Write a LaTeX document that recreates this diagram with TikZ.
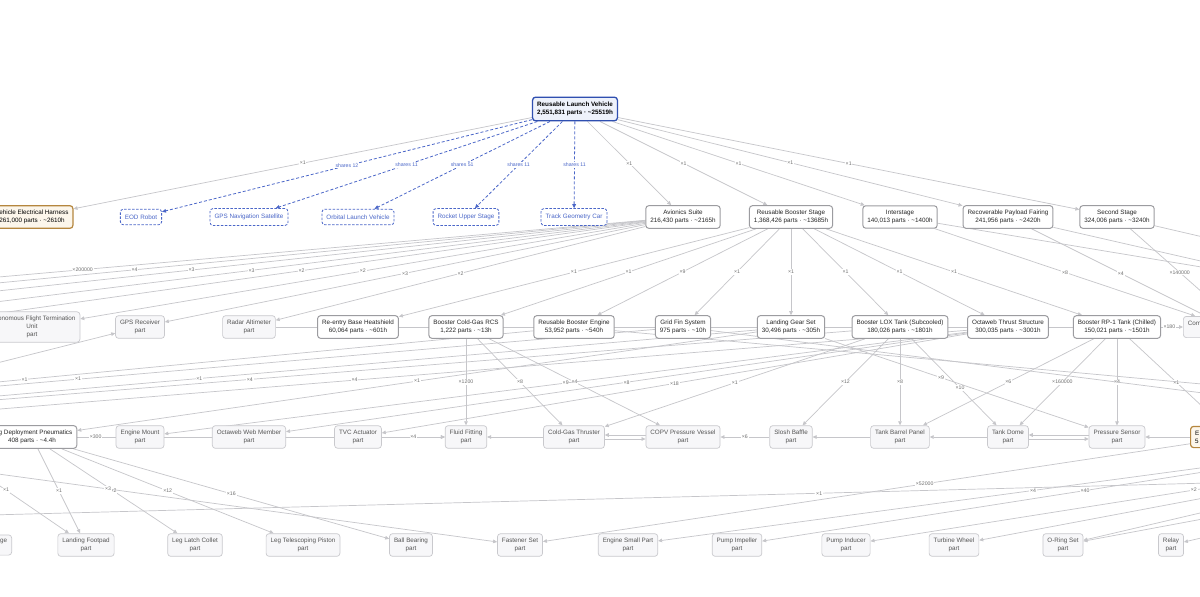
\documentclass[tikz,border=0pt]{standalone}
\usepackage{fontspec}
\setmainfont{Liberation Sans}
\usetikzlibrary{arrows.meta, backgrounds}

\definecolor{edgegray}{HTML}{C6C6CA}
\definecolor{asmgray}{HTML}{9C9CA0}
\definecolor{partgray}{HTML}{C9C9CD}
\definecolor{partfill}{HTML}{F7F7F9}
\definecolor{parttext}{HTML}{555555}
\definecolor{rootblue}{HTML}{2F4FB0}
\definecolor{rootfill}{HTML}{EEF2FB}
\definecolor{shareblue}{HTML}{4A66C8}
\definecolor{harnessbrown}{HTML}{B5863E}
\definecolor{harnessfill}{HTML}{FCF6EB}
\definecolor{lblgray}{HTML}{707070}

\newcommand{\aprx}{\textasciitilde}

\tikzset{
  asm/.style={draw=asmgray, line width=1pt, fill=white, text=black!85},
  part/.style={draw=partgray, line width=0.7pt, fill=partfill, text=parttext},
  root/.style={draw=rootblue, line width=1.3pt, fill=rootfill, inner ysep=5pt,
    font=\fontsize{6.3}{7.8}\selectfont\bfseries},
  shared/.style={draw=shareblue, dashed, dash pattern=on 2.5pt off 1.5pt,
    line width=0.8pt, fill=white, text=shareblue, inner ysep=5.5pt},
  harness/.style={draw=harnessbrown, line width=1.2pt, fill=harnessfill},
  sharelink/.style={draw=shareblue, dashed, dash pattern=on 3pt off 2pt, line width=0.8pt},
  sharetag/.style={text=shareblue},
}

\begin{document}
\begin{tikzpicture}[x=1pt, y=-1pt]
\useasboundingbox (0,0) rectangle (1200,597);

\begin{scope}[
    every node/.style={rounded corners=3pt, align=center, inner xsep=4.5pt,
      inner ysep=4.5pt, font=\fontsize{6.3}{7.8}\selectfont}]
    \node (rlv) at (575, 109) [root] {Reusable Launch Vehicle\\2,551,831 parts · \aprx25519h};

    % % 1st row
    \node (veh) at (32, 217) [harness] {Vehicle Electrical Harness\\261,000 parts · \aprx2610h};
    \node (eod) at (141, 217) [shared] {EOD Robot};
    \node (gns) at (249, 217) [shared] {GPS Navigation Satellite};
    \node (olv) at (358, 217) [shared] {Orbital Launch Vehicle};
    \node (rus) at (466, 217) [shared] {Rocket Upper Stage};
    \node (tgc) at (574, 217) [shared] {Track Geometry Car};
    \node (avi) at (683, 217) [asm] {Avionics Suite\\216,430 parts · \aprx2165h};
    \node (rbs) at (791, 217) [asm] {Reusable Booster Stage\\1,368,426 parts · \aprx13685h};
    \node (ist) at (900, 217) [asm] {Interstage\\140,013 parts · \aprx1400h};
    \node (rpf) at (1008, 217) [asm] {Recoverable Payload Fairing\\241,956 parts · \aprx2420h};
    \node (sst) at (1117, 217) [asm] {Second Stage\\324,006 parts · \aprx3240h};

    % % 2nd row
    \node (aftu) at (32, 327) [part] {Autonomous Flight Termination\\Unit\\part};
    \node (gpsr) at (140, 327) [part] {GPS Receiver\\part};
    \node (ralt) at (249, 327) [part] {Radar Altimeter\\part};
    \node (rbh) at (358, 327) [asm] {Re-entry Base Heatshield\\60,064 parts · \aprx601h};
    \node (rcs) at (466, 327) [asm] {Booster Cold-Gas RCS\\1,222 parts · \aprx13h};
    \node (rbe) at (574, 327) [asm] {Reusable Booster Engine\\53,952 parts · \aprx540h};
    \node (gfs) at (683, 327) [asm] {Grid Fin System\\975 parts · \aprx10h};
    \node (lgs) at (791, 327) [asm] {Landing Gear Set\\30,496 parts · \aprx305h};
    \node (lox) at (900, 327) [asm] {Booster LOX Tank (Subcooled)\\180,026 parts · \aprx1801h};
    \node (otw) at (1008, 327) [asm] {Octaweb Thrust Structure\\300,035 parts · \aprx3001h};
    \node (rp1) at (1117, 327) [asm] {Booster RP-1 Tank (Chilled)\\150,021 parts · \aprx1501h};
    \node (com) at (1183, 327) [part, anchor=west, text width=80pt, align=left] {Com\\\mbox{}};

    % % 3rd row
    \node (ldp) at (32, 437) [asm] {Leg Deployment Pneumatics\\408 parts · \aprx4.4h};
    \node (emt) at (140, 437) [part] {Engine Mount\\part};
    \node (owm) at (249, 437) [part] {Octaweb Web Member\\part};
    \node (tvc) at (358, 437) [part] {TVC Actuator\\part};
    \node (ffi) at (466, 437) [part] {Fluid Fitting\\part};
    \node (cgt) at (574, 437) [part] {Cold-Gas Thruster\\part};
    \node (copv) at (683, 437) [part] {COPV Pressure Vessel\\part};
    \node (sba) at (791, 437) [part] {Slosh Baffle\\part};
    \node (tbp) at (900, 437) [part] {Tank Barrel Panel\\part};
    \node (tdo) at (1008, 437) [part] {Tank Dome\\part};
    \node (pse) at (1117, 437) [part] {Pressure Sensor\\part};
    \node (eh) at (1190, 437) [harness, anchor=west, text width=80pt, align=left] {E\\5};

    % % 4th row
    \node (ge) at (12, 545) [part, anchor=east, text width=50pt, align=right] {ge\\\mbox{}};
    \node (lfp) at (86, 545) [part] {Landing Footpad\\part};
    \node (llc) at (195, 545) [part] {Leg Latch Collet\\part};
    \node (ltp) at (303, 545) [part] {Leg Telescoping Piston\\part};
    \node (bbe) at (411, 545) [part] {Ball Bearing\\part};
    \node (fst) at (520, 545) [part] {Fastener Set\\part};
    \node (esp) at (628, 545) [part] {Engine Small Part\\part};
    \node (pim) at (737, 545) [part] {Pump Impeller\\part};
    \node (pin) at (846, 545) [part] {Pump Inducer\\part};
    \node (twh) at (954, 545) [part] {Turbine Wheel\\part};
    \node (ors) at (1063, 545) [part] {O-Ring Set\\part};
    \node (rly) at (1171, 545) [part] {Relay\\part};
\end{scope}

% ends that lie outside the picture
\coordinate (offa) at (-42, 319);
\coordinate (offb) at (-142, 319);
\coordinate (offc) at (-262, 319);
\coordinate (offd) at (-376, 319);
\coordinate (offe) at (-480, 319);
\coordinate (offf) at (1210, 318);
\coordinate (offg) at (1229, 316);
\coordinate (offh) at (1400, 300);
\coordinate (offi) at (1450, 318);
\coordinate (offj) at (1500, 306);
\coordinate (offk) at (-281, 436);
\coordinate (offl) at (-57, 447);
\coordinate (offm) at (1408, 440);
\coordinate (offn) at (1517, 439);
\coordinate (offo) at (1600, 445);
\coordinate (offp) at (1400, 478);
\coordinate (offq) at (-200, 520);
\coordinate (offr) at (-150, 400);
\coordinate (offs) at (1400, 402);
\coordinate (offt) at (1400, 418);
\coordinate (offu) at (-258, 430);
\coordinate (offv) at (-352, 428);
\coordinate (offw) at (-358, 427);
\coordinate (offx) at (-499, 429);
\coordinate (offy) at (-484, 428);

\begin{scope}[on background layer]
    \fill[white] (0,0) rectangle (1200,597);
\end{scope}

\begin{scope}[on background layer,
              >={Triangle[length=4pt, width=3.6pt]},
              every node/.style={fill=white, inner sep=0.8pt, text=lblgray,
                font=\fontsize{5.2}{6}\selectfont},
              every edge/.style={draw=edgegray, line width=0.7pt}]
    \path [->] (rlv) edge node {×1} (veh);
    \path [->] (rlv) edge[sharelink] node[sharetag] {shares 12} (eod);
    \path [->] (rlv) edge[sharelink] node[sharetag] {shares 11} (gns);
    \path [->] (rlv) edge[sharelink] node[sharetag] {shares 51} (olv);
    \path [->] (rlv) edge[sharelink] node[sharetag] {shares 11} (rus);
    \path [->] (rlv) edge[sharelink] node[sharetag] {shares 11} (tgc);
    \path [->] (rlv) edge node {×1} (avi);
    \path [->] (rlv) edge node {×1} (rbs);
    \path [->] (rlv) edge node {×1} (ist);
    \path [->] (rlv) edge node {×1} (rpf);
    \path [->] (rlv) edge node {×1} (sst);

    % % avionics
    \path [->] (avi) edge node {×200000} (offe);
    \path [->] (avi) edge node {×4} (offd);
    \path [->] (avi) edge node {×3} (offc);
    \path [->] (avi) edge node {×3} (offb);
    \path [->] (avi) edge node {×2} (offa);
    \path [->] (avi) edge node {×2} (aftu);
    \path [->] (avi) edge node {×3} (gpsr);
    \path [->] (avi) edge node {×2} (ralt);

    % % booster stage
    \path [->] (rbs) edge node {×1} (rbh);
    \path [->] (rbs) edge node {×1} (rcs);
    \path [->] (rbs) edge node {×9} (rbe);
    \path [->] (rbs) edge node {×1} (gfs);
    \path [->] (rbs) edge node {×1} (lgs);
    \path [->] (rbs) edge node {×1} (lox);
    \path [->] (rbs) edge node {×1} (otw);
    \path [->] (rbs) edge node {×1} (rp1);

    \path [->] (ist) edge node {×8} (com);
    \path [->] (rpf) edge node {×4} (offf);
    \path [->] (sst) edge node {×140000} (offg);
    \path [->] (ist) edge (offh);
    \path [->] (rpf) edge (offi);
    \path [->] (sst) edge (offj);
    \path [->] (ralt.east) edge node[pos=.985] {×180} (com);
    \path [->] (offr) edge (gpsr);

    % % 2nd row down
    \path [->] (rbe) edge node {×1} (offy);
    \path [->] (gfs) edge node {×1} (offx);
    \path [->] (lgs) edge node {×1} (offw);
    \path [->] (lox) edge node {×4} (offv);
    \path [->] (otw) edge node {×4} (offu);
    \path [->] (lgs) edge node {×1} (ldp);
    \path [->] (rcs) edge node {×1200} (ffi);
    \path [->] (rcs) edge node {×8} (cgt);
    \path [->] (rcs) edge node {×4} (copv);
    \path [->] (otw) edge node {×9} (emt);
    \path [->] (otw) edge node {×8} (owm);
    \path [->] (otw) edge node {×18} (tvc);
    \path [->] (lox) edge node {×1} (cgt);
    \path [->] (lox) edge node {×12} (sba);
    \path [->] (lox) edge node {×8} (tbp);
    \path [->] (lox) edge node[pos=.57] {×10} (tdo);
    \path [->] (lgs) edge node[pos=.44] {×9} (pse);
    \path [->] (rp1) edge node {×6} (tbp);
    \path [->] (rp1) edge node {×160000} (tdo);
    \path [->] (rp1) edge node {×4} (pse);
    \path [->] (rp1) edge node {×1} (eh);
    \path [->] (rbe) edge (offs);
    \path [->] (gfs) edge (offt);

    % % along the 3rd row
    \path [->] (ldp) edge node[pos=.05] {×300} (ffi);
    \path [->] (tvc) edge node {×4} (ffi);
    \path [->] (cgt) edge (ffi);
    \path [->] ([yshift=2pt]copv.west) edge ([yshift=2pt]cgt.east);
    \path [->] ([yshift=-2pt]cgt.east) edge ([yshift=-2pt]copv.west);
    \path [->] (sba) edge node {×6} (copv);
    \path [->] (tbp) edge (sba);
    \path [->] (tdo) edge (tbp);
    \path [->] ([yshift=2pt]pse.west) edge ([yshift=2pt]tdo.east);
    \path [->] ([yshift=-2pt]tdo.east) edge ([yshift=-2pt]pse.west);
    \path [->] (eh) edge (pse);

    % % 3rd row down
    \path [->] (offl) edge node {×1} (lfp);
    \path [->] (ldp) edge node {×1} (lfp);
    \path [->] (ldp) edge node {×2} (llc);
    \path [->] (offk) edge node {×3} (fst);
    \path [->] (ldp) edge node {×12} (ltp);
    \path [->] (ldp) edge node {×16} (bbe);
    \path [->] (offp) edge node[pos=.363] {×1} (offq);
    \path [->] (eh) edge node[pos=.41] {×52000} (fst);
    \path [->] (offm) edge node {×4} (esp);
    \path [->] (offm) edge node {×40} (pim);
    \path [->] (offn) edge node {×2} (pin);
    \path [->] (offn) edge (twh);
    \path [->] (offo) edge (ors);
    \path [->] (offn) edge (ors);
    \path [->] (offo) edge (rly);
\end{scope}
\end{tikzpicture}
\end{document}
